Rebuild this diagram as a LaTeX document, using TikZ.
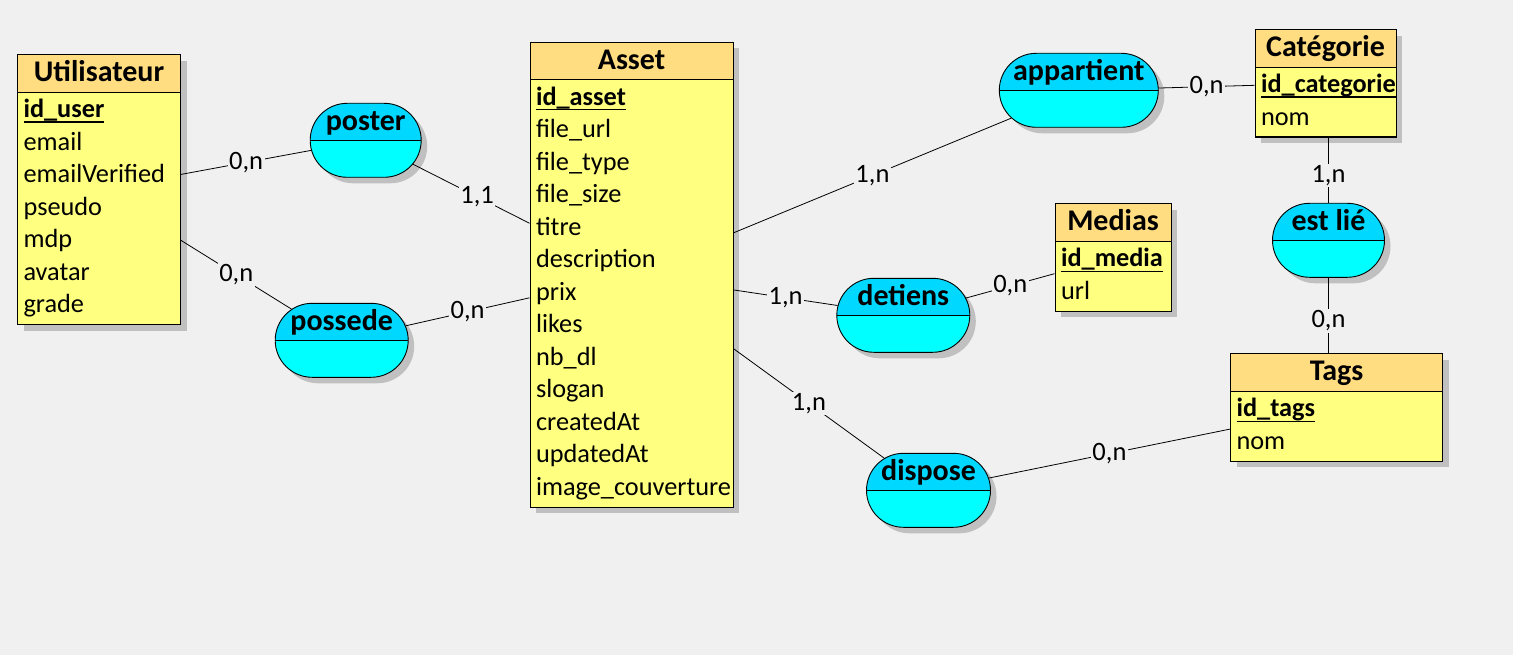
\documentclass[tikz,border=0pt]{standalone}
\usepackage{fontspec}
\setmainfont{Carlito}
\usetikzlibrary{positioning,shadows,shapes.misc}
\definecolor{MBack}{HTML}{F0F0F0}
\definecolor{MEntHead}{HTML}{FFDD80}
\definecolor{MEntBody}{HTML}{FFFF80}
\definecolor{MAssHead}{HTML}{00D8FF}
\definecolor{MAssBody}{HTML}{00FFFF}
\definecolor{MShadow}{HTML}{C0C0C0}
\newcommand\titlefont{\fontsize{30}{35}\selectfont\bfseries}
\newcommand\attrfont{\fontsize{26.3}{32.5}\selectfont}
\newcommand\cardfont{\fontsize{26.5}{30}\selectfont}
% entity title line and primary key
\newcommand\etitle[1]{\leavevmode\makebox[\linewidth]{\rule{0pt}{27pt}\titlefont #1}\\[3.5pt]}
\newcommand\pkey[1]{\leavevmode\setbox0\hbox{\bfseries #1}\rlap{\rule[-5pt]{\wd0}{1.3pt}}\box0}
\newcommand\lastrow{\rule[-12pt]{0pt}{12pt}}

\begin{document}
\begin{tikzpicture}[
  x=1pt,y=-1pt,
  shade/.style={drop shadow={shadow xshift=6pt,shadow yshift=-6pt,
    fill=MShadow,opacity=1}},
  ent/.style={draw,line width=1.1pt,fill=MEntBody,anchor=north west,
    align=left,inner xsep=6pt,inner ysep=0pt,font=\attrfont,shade,
    path picture={
      \fill[MEntHead] (path picture bounding box.north west) rectangle
        ([yshift=-37.5pt]path picture bounding box.north east);
      \draw[line width=1pt] ([yshift=-37.5pt]path picture bounding box.north west) --
        ([yshift=-37.5pt]path picture bounding box.north east);}},
  assoc/.style={rounded rectangle,draw,line width=0.9pt,fill=MAssBody,
    minimum height=74pt,inner xsep=0pt,inner ysep=0pt,
    text height=27pt,text depth=47pt,font=\titlefont,shade,
    path picture={
      \fill[MAssHead] (path picture bounding box.north west) rectangle
        ([yshift=-37.5pt]path picture bounding box.north east);
      \draw[line width=0.9pt] ([yshift=-37.5pt]path picture bounding box.north west) --
        ([yshift=-37.5pt]path picture bounding box.north east);}},
  link/.style={line width=0.8pt},
  card/.style={font=\cardfont,fill=MBack,inner sep=1.5pt}
]
  \fill[MBack] (0,0) rectangle (1513,655);
  \useasboundingbox (0,0) rectangle (1513,655);

  % entities
  \node[ent,text width=151pt] (utilisateur) at (17,54)
    {\etitle{Utilisateur}\pkey{id\_user}\\ email\\ emailVerified\\ pseudo\\
     mdp\\ avatar\\ grade\lastrow};
  \node[ent,text width=191pt] (asset) at (529.5,41.7)
    {\etitle{Asset}\pkey{id\_asset}\\ file\_url\\ file\_type\\ file\_size\\
     titre\\ description\\ prix\\ likes\\ nb\_dl\\ slogan\\ createdAt\\
     updatedAt\\ image\_couverture\lastrow};
  \node[ent,text width=129pt] (categorie) at (1254.5,29)
    {\etitle{Catégorie}\pkey{id\_categorie}\\ nom\lastrow};
  \node[ent,text width=104pt] (medias) at (1054.5,203.3)
    {\etitle{Medias}\pkey{id\_media}\\ url\lastrow};
  \node[ent,text width=200pt] (tags) at (1230,353.3)
    {\etitle{Tags}\pkey{id\_tags}\\ nom\lastrow};

  % associations
  \node[assoc,minimum width=111pt] (poster) at (365.7,140.3)
    {\makebox[0pt]{poster}};
  \node[assoc,minimum width=133pt] (possede) at (341.7,340.3)
    {\makebox[0pt]{possede}};
  \node[assoc,minimum width=159pt] (appartient) at (1078.8,90.3)
    {\makebox[0pt]{appartient}};
  \node[assoc,minimum width=133pt] (detiens) at (903.3,315.3)
    {\makebox[0pt]{detiens}};
  \node[assoc,minimum width=124pt] (dispose) at (928.5,490.3)
    {\makebox[0pt]{dispose}};
  \node[assoc,minimum width=112pt] (estlie) at (1328.5,240.3)
    {\makebox[0pt]{est lié}};

  % links
  \draw[link] (utilisateur) -- node[card]{0,n} (poster);
  \draw[link] (poster) -- node[card,pos=0.55]{1,1} (asset);
  \draw[link] (utilisateur) -- node[card]{0,n} (possede);
  \draw[link] (possede) -- node[card]{0,n} (asset);
  \draw[link] (asset) -- node[card]{1,n} (appartient);
  \draw[link] (appartient) -- node[card]{0,n} (categorie);
  \draw[link] (asset) -- node[card]{1,n} (detiens);
  \draw[link] (detiens) -- node[card]{0,n} (medias);
  \draw[link] (asset) -- node[card]{1,n} (dispose);
  \draw[link] (dispose) -- node[card]{0,n} (tags);
  \draw[link] (categorie.south -| estlie) -- node[card,pos=0.58]{1,n} (estlie);
  \draw[link] (estlie) -- node[card,pos=0.57]{0,n} (estlie |- tags.north);
\end{tikzpicture}
\end{document}
